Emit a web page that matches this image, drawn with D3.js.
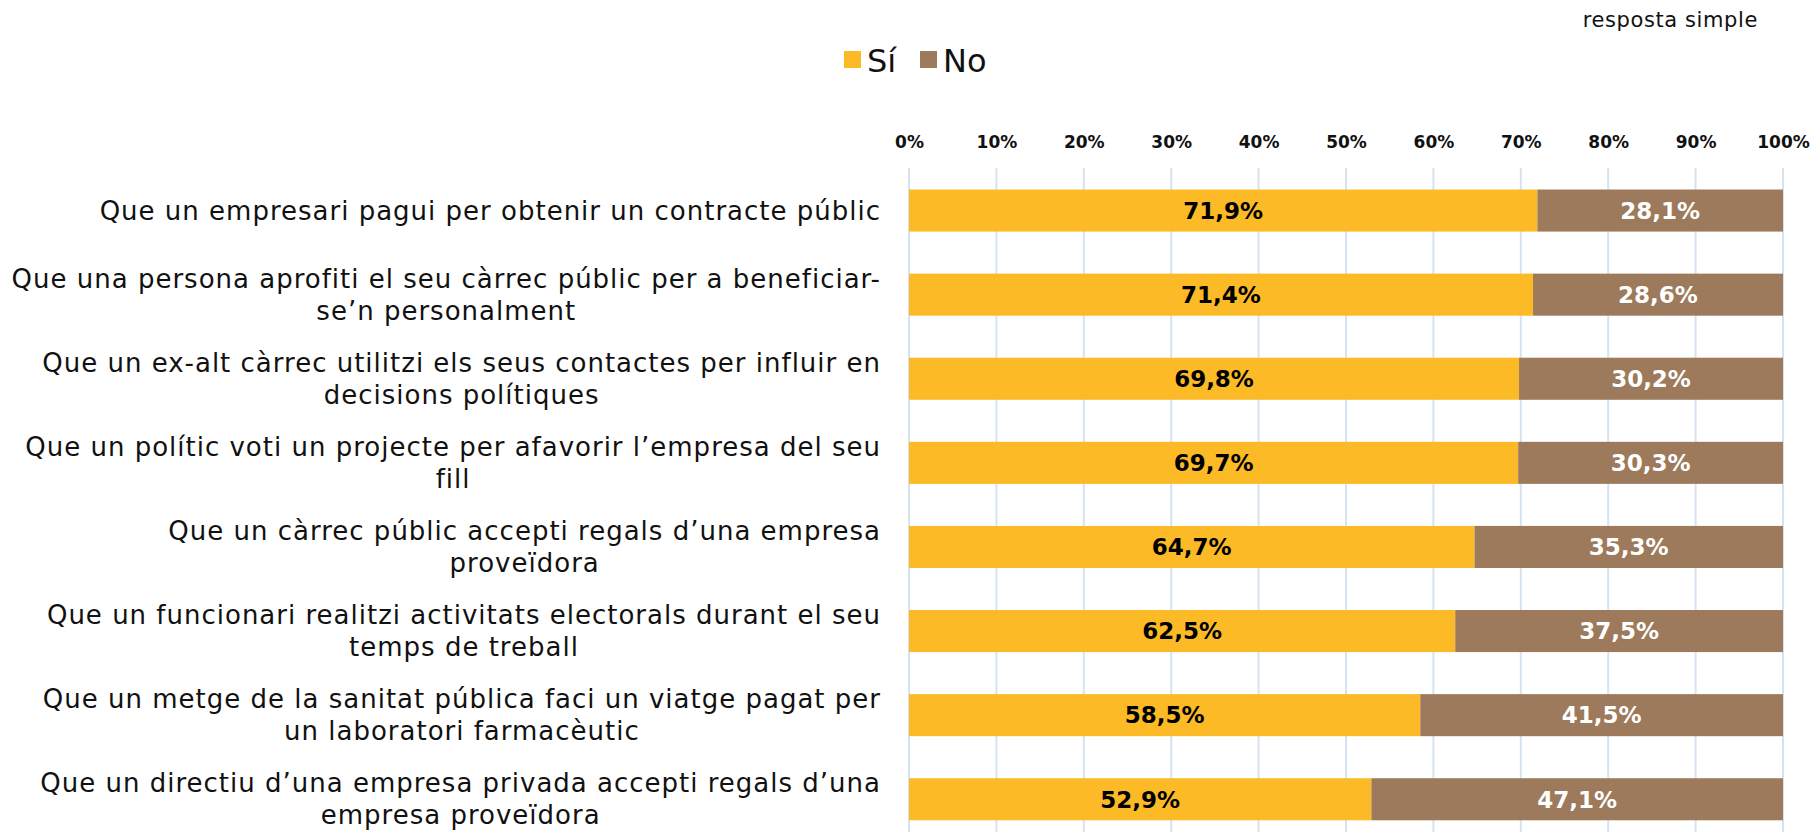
<!DOCTYPE html>
<html>
<head>
<meta charset="utf-8">
<script src="https://cdn.jsdelivr.net/npm/d3@7"></script>
<style>
  body { margin: 0; background: #fff; }
  svg { display: block; }
</style>
</head>
<body>
<div id="chart"></div>
<script>
var w = 1810;
var h = 832;

// dades
var categories = [
  ["Que un empresari pagui per obtenir un contracte públic"],
  ["Que una persona aprofiti el seu càrrec públic per a beneficiar-", "se’n personalment"],
  ["Que un ex-alt càrrec utilitzi els seus contactes per influir en", "decisions polítiques"],
  ["Que un polític voti un projecte per afavorir l’empresa del seu", "fill"],
  ["Que un càrrec públic accepti regals d’una empresa", "proveïdora"],
  ["Que un funcionari realitzi activitats electorals durant el seu", "temps de treball"],
  ["Que un metge de la sanitat pública faci un viatge pagat per", "un laboratori farmacèutic"],
  ["Que un directiu d’una empresa privada accepti regals d’una", "empresa proveïdora"]
];
var si = [71.9, 71.4, 69.8, 69.7, 64.7, 62.5, 58.5, 52.9];
var no = [28.1, 28.6, 30.2, 30.3, 35.3, 37.5, 41.5, 47.1];
var series = ["Sí", "No"];
var colors = ["#FBBA26", "#9C7A5B"];
var ticks = [0, 10, 20, 30, 40, 50, 60, 70, 80, 90, 100];

var svg = d3.select("#chart")
            .append("svg")
            .attr("width", w)
            .attr("height", h);

var x = d3.scaleLinear().domain([0, 100]).range([909, 1783]);
var y = d3.scaleBand()
          .domain(d3.range(categories.length))
          .range([168.5, 841.3])
          .paddingInner(0.5)
          .paddingOuter(0.25);

var fmt = function(v) { return v.toFixed(1).replace(".", ",") + "%"; };

// línies de graella
svg.selectAll(".grid")
    .data(ticks)
    .enter()
    .append("line")
    .attr("x1", function(d) { return x(d); })
    .attr("x2", function(d) { return x(d); })
    .attr("y1", 168)
    .attr("y2", h)
    .style("stroke", "#D5E3F1")
    .style("stroke-width", 2);

// eix superior
var axis = svg.append("g")
    .attr("transform", "translate(0,148)")
    .call(d3.axisTop(x).tickValues(ticks).tickSize(0).tickPadding(0)
           .tickFormat(function(d) { return d + "%"; }));
axis.select(".domain").remove();
axis.selectAll("text")
    .style("font-family", "DejaVu Sans")
    .style("font-weight", "bold")
    .style("font-size", "17px")
    .style("fill", "#111");

// barres
var stack = d3.stack().keys([0, 1])(si.map(function(d, i) { return [si[i], no[i]]; }));
var layer = svg.selectAll(".layer")
    .data(stack)
    .enter()
    .append("g")
    .style("fill", function(d, i) { return colors[i]; });

layer.selectAll("rect")
    .data(function(d) { return d; })
    .enter()
    .append("rect")
    .attr("x", function(d) { return x(d[0]); })
    .attr("y", function(d, i) { return y(i); })
    .attr("width", function(d) { return x(d[1]) - x(d[0]); })
    .attr("height", y.bandwidth());

layer.selectAll("text")
    .data(function(d, k) { return d.map(function(s) { return { s: s, k: k }; }); })
    .enter()
    .append("text")
    .attr("x", function(d) { return (x(d.s[0]) + x(d.s[1])) / 2; })
    .attr("y", function(d, i) { return y(i) + y.bandwidth() / 2; })
    .attr("dy", "0.36em")
    .attr("text-anchor", "middle")
    .style("font-family", "DejaVu Sans")
    .style("font-weight", "bold")
    .style("font-size", "23px")
    .style("fill", function(d) { return d.k === 0 ? "#000" : "#fff"; })
    .text(function(d) { return fmt(d.s[1] - d.s[0]); });

// etiquetes de categoria (línies centrades, bloc alineat a la dreta)
var lab = svg.selectAll(".cat")
    .data(categories)
    .enter()
    .append("text")
    .attr("text-anchor", "middle")
    .style("font-family", "DejaVu Sans")
    .style("font-size", "26px")
    .style("letter-spacing", "1px")
    .style("fill", "#111");
lab.selectAll("tspan")
    .data(function(d) { return d; })
    .enter()
    .append("tspan")
    .attr("x", 0)
    .attr("dy", function(d, i) { return i === 0 ? "0.35em" : "32px"; })
    .text(function(d) { return d; });
lab.attr("transform", function(d, i) {
  var maxW = 0;
  d3.select(this).selectAll("tspan").each(function() {
    maxW = Math.max(maxW, this.getComputedTextLength());
  });
  var c = y(i) + y.bandwidth() / 2 - (d.length - 1) * 16;
  return "translate(" + (881 - maxW / 2) + "," + c + ")";
});

// llegenda
var leg = svg.selectAll(".leg")
    .data(series)
    .enter()
    .append("g")
    .attr("transform", function(d, i) { return "translate(" + (844 + i * 76) + ",51)"; });
leg.append("rect")
    .attr("width", 17)
    .attr("height", 17)
    .style("fill", function(d, i) { return colors[i]; });
leg.append("text")
    .attr("x", 23)
    .attr("y", 9)
    .attr("dy", "0.36em")
    .style("font-family", "DejaVu Sans")
    .style("font-size", "32px")
    .style("fill", "#111")
    .text(function(d) { return d; });

svg.append("text")
    .attr("x", 1758)
    .attr("y", 20)
    .attr("dy", "0.35em")
    .attr("text-anchor", "end")
    .style("font-family", "DejaVu Sans")
    .style("font-size", "21px")
    .style("letter-spacing", "0.6px")
    .style("fill", "#111")
    .text("resposta simple");
</script>
</body>
</html>
